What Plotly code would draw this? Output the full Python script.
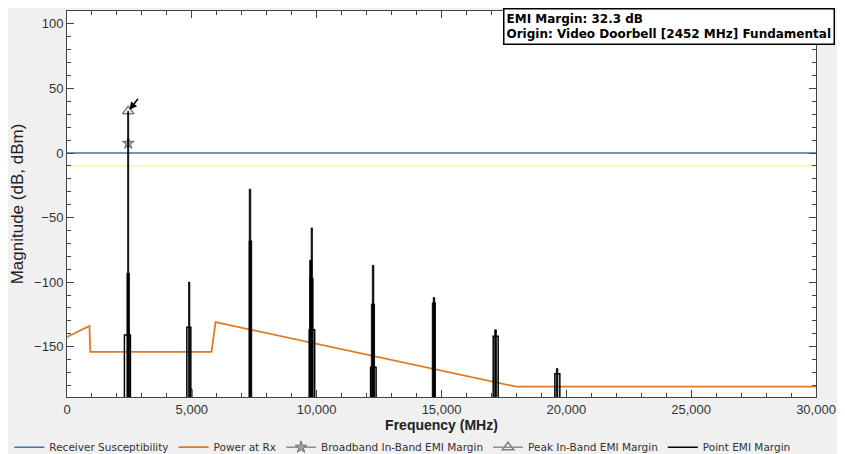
import plotly.graph_objects as go

# ---------------- data ----------------
freq_range = [0, 30000]
mag_range = [-189, 110]

susceptibility_freq = [0, 30000]
susceptibility_level = [0, 0]
threshold_level = [-10, -10]

power_freq = [0, 900, 930, 5790, 5950, 18000, 30000]
power_level = [-142.5, -134, -154, -154, -131, -181, -181]

broadband_freq = [2452]
broadband_margin = [7.5]
peak_freq = [2452]
peak_margin = [32.3]

# hollow point-EMI envelopes: (low MHz, high MHz, level dB)
env_lo = [2300, 4800, 9700, 12160, 17070, 19540]
env_hi = [2540, 4960, 9920, 12380, 17270, 19740]
env_lv = [-141, -135, -137, -166, -142, -171]

# solid point-EMI spurs: (low MHz, high MHz, level dB)
spur_lo = [2400, 2430, 4870, 4960, 7290, 7300, 9720, 9720, 9780, 12190, 12230, 14630, 14670, 17130, 19600]
spur_hi = [2500, 2470, 4920, 5010, 7400, 7360, 9800, 9860, 9830, 12320, 12290, 14760, 14730, 17200, 19660]
spur_lv = [-93, 32.3, -100, -183, -68, -28, -83, -97, -58, -117, -87, -116, -112, -137, -167]

floor_level = -200
margin_text = "EMI Margin: 32.3 dB"
origin_text = "Origin: Video Doorbell [2452 MHz] Fundamental"

# ---------------- build ----------------
env_x, env_y = [], []
for lo, hi, lv in zip(env_lo, env_hi, env_lv):
    env_x += [lo, lo, hi, hi, None]
    env_y += [floor_level, lv, lv, floor_level, None]

spur_x, spur_y = [], []
for lo, hi, lv in zip(spur_lo, spur_hi, spur_lv):
    spur_x += [lo, lo, hi, hi, lo, None]
    spur_y += [floor_level, lv, lv, floor_level, floor_level, None]

FONT = "Liberation Sans"
fig = go.Figure()

fig.add_trace(go.Scatter(x=susceptibility_freq, y=threshold_level, mode="lines",
                         line=dict(color="#f2f07a", width=1), showlegend=False, hoverinfo="skip"))
fig.add_trace(go.Scatter(x=susceptibility_freq, y=susceptibility_level, mode="lines",
                         name="Receiver Susceptibility", line=dict(color="#4a6f9e", width=1.5)))
fig.add_trace(go.Scatter(x=power_freq, y=power_level, mode="lines", name="Power at Rx",
                         line=dict(color="#e07b24", width=1.8)))
fig.add_trace(go.Scatter(x=broadband_freq, y=broadband_margin, mode="lines+markers",
                         name="Broadband In-Band EMI Margin",
                         line=dict(color="#909090", width=1.5),
                         marker=dict(symbol="star", size=9, color="#a0a0a0",
                                     line=dict(color="#707070", width=1))))
fig.add_trace(go.Scatter(x=peak_freq, y=peak_margin, mode="lines+markers",
                         name="Peak In-Band EMI Margin",
                         line=dict(color="#909090", width=1.5),
                         marker=dict(symbol="triangle-up-open", size=10, color="#808080",
                                     line=dict(width=1.5))))
fig.add_trace(go.Scatter(x=spur_x, y=spur_y, mode="lines", fill="toself",
                         fillcolor="black", line=dict(color="black", width=0.8),
                         showlegend=False, legendgroup="pt", hoverinfo="skip"))
fig.add_trace(go.Scatter(x=env_x, y=env_y, mode="lines", name="Point EMI Margin",
                         legendgroup="pt", line=dict(color="black", width=1.5)))

fig.add_annotation(x=peak_freq[0], y=peak_margin[0], ax=11, ay=-14, text="",
                   showarrow=True, arrowhead=2, arrowsize=1, arrowwidth=1.5,
                   arrowcolor="black", standoff=2)
fig.add_annotation(xref="paper", yref="paper", x=0.582, y=1.008,
                   xanchor="left", yanchor="top", align="left",
                   text=f"<b>{margin_text}<br>{origin_text}</b>", showarrow=False,
                   font=dict(family="DejaVu Sans", size=12, color="black"),
                   bgcolor="white", bordercolor="black", borderwidth=1.5, borderpad=2)

axis_common = dict(showline=True, linecolor="#444", linewidth=1, mirror="ticks",
                   ticks="inside", ticklen=7, tickcolor="#444", showgrid=False,
                   zeroline=False, tickfont=dict(family=FONT, size=13, color="#333"))

fig.update_xaxes(range=freq_range, tick0=0, dtick=5000, tickformat=",d",
                 minor=dict(ticks="inside", ticklen=4, dtick=1000, tickcolor="#444"),
                 title=dict(text="<b>Frequency (MHz)</b>", standoff=4,
                            font=dict(family=FONT, size=14, color="#222")),
                 **axis_common)
fig.update_yaxes(range=mag_range, tick0=0, dtick=50,
                 minor=dict(ticks="inside", ticklen=4, dtick=10, tickcolor="#444"),
                 title=dict(text="Magnitude (dB, dBm)", standoff=6,
                            font=dict(family=FONT, size=17, color="#222")),
                 **axis_common)

fig.update_layout(
    width=837, height=446,
    margin=dict(l=59, r=29, t=3, b=57, autoexpand=False),
    paper_bgcolor="#f0f0f0", plot_bgcolor="white",
    legend=dict(orientation="h", x=-0.077, xanchor="left", y=-0.13, yanchor="middle",
                font=dict(family="DejaVu Sans", size=10.5, color="#333"),
                bgcolor="rgba(0,0,0,0)"),
)

fig.write_html("out.html")
